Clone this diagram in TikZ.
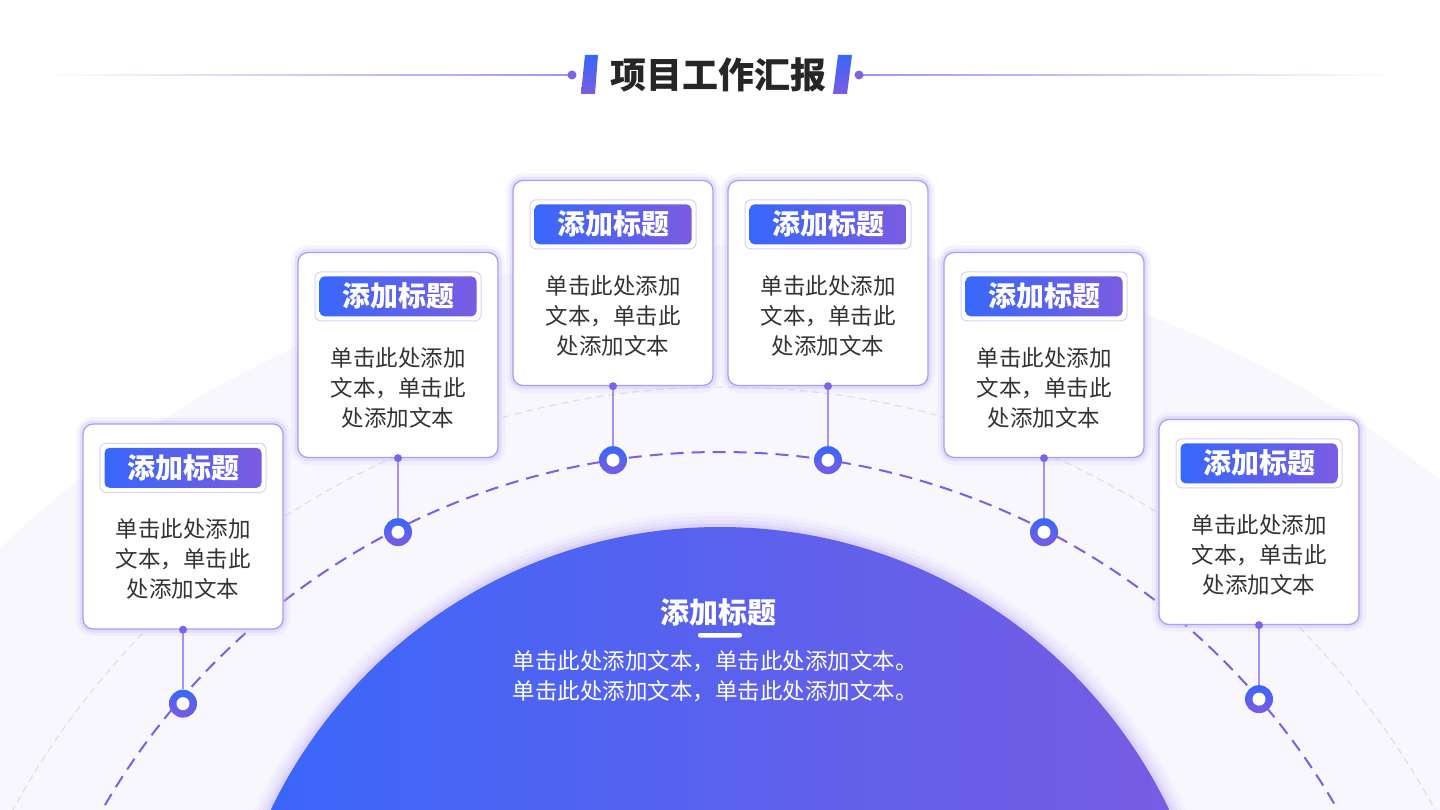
\documentclass[tikz,border=0pt]{standalone}
\usepackage{fontspec}
\setmainfont{Noto Sans CJK SC}
\usetikzlibrary{positioning}
\definecolor{bgTint}{HTML}{F8F7FE}
\definecolor{mainBlue}{HTML}{3867FB}
\definecolor{mainViolet}{HTML}{7A5CE1}
\definecolor{dashC}{HTML}{7B5FE6}
\definecolor{thinC}{HTML}{DDD7F6}
\definecolor{frameC}{HTML}{AC9CF4}
\definecolor{glowC}{HTML}{C4B7F8}
\definecolor{tbFrame}{HTML}{D9D1F9}
\definecolor{connC}{HTML}{A393F2}
\definecolor{dotC}{HTML}{7C63E8}
\definecolor{textC}{HTML}{333333}
\definecolor{headC}{HTML}{262626}
\tikzset{
  card/.style={rectangle, rounded corners=10pt, minimum width=200pt, minimum height=205pt,
    fill=white, draw=frameC, line width=1.3pt,
    preaction={draw=glowC, line width=14pt, opacity=0.15},
    preaction={draw=glowC, line width=7pt, opacity=0.3}},
  tbframe/.style={rectangle, rounded corners=6pt, minimum width=166pt, minimum height=49pt,
    fill=white, draw=tbFrame, line width=1pt},
  tbar/.style={rectangle, rounded corners=5pt, minimum width=157pt, minimum height=40pt,
    inner sep=0pt, left color=mainBlue, right color=mainViolet, text=white,
    font=\bfseries\fontsize{28}{30}\selectfont},
  body/.style={align=center, text=textC, font=\fontsize{22.5}{30}\selectfont},
  ring/.style={circle, minimum size=28pt, inner sep=0pt, top color=mainBlue, bottom color=mainViolet,
    path picture={\fill[white] (path picture bounding box.center) circle (6.5pt);}},
  hdot/.style={circle, fill=dotC, minimum size=9pt, inner sep=0pt},
  conn/.style={draw=connC, line width=1.5pt}
}
\begin{document}
\begin{tikzpicture}[x=1pt,y=-1pt]
\useasboundingbox (0,0) rectangle (1440,810);
\clip (0,0) rectangle (1440,810);
\fill[white] (0,0) rectangle (1440,810);
% arcs
\fill[bgTint] (759,1347) circle (1102pt);
\draw[thinC, line width=1pt, dash pattern=on 7pt off 5pt] (724,1196) circle (809pt);
\draw[dashC, line width=2pt, dash pattern=on 13pt off 8pt] (720,1164) circle (712pt);
\path[preaction={draw=glowC, line width=30pt, opacity=0.08},
      preaction={draw=glowC, line width=22pt, opacity=0.12},
      preaction={draw=glowC, line width=14pt, opacity=0.18},
      preaction={draw=glowC, line width=7pt, opacity=0.3},
      left color=mainBlue, right color=mainViolet] (720,1025) circle (498pt);
%
% header
\node[font=\bfseries\fontsize{36}{40}\selectfont, text=headC] (head) at (718,75) {项目工作汇报};
\shade[top color=mainBlue, bottom color=mainViolet] (585,55) -- (598,55) -- (595,94) -- (581,94) -- cycle;
\shade[top color=mainBlue, bottom color=mainViolet] (838,55) -- (852,55) -- (847,94) -- (833,94) -- cycle;
\shade[left color=white, right color=connC] (40,74.2) rectangle (572,75.8);
\shade[left color=connC, right color=white] (859,74.2) rectangle (1400,75.8);
\node[hdot] (hl) at (572,75) {};
\node[hdot] (hr) at (859,75) {};
%
% center
\node[font=\bfseries\fontsize{29}{30}\selectfont, text=white] (ctitle) at (718,612) {添加标题};
\fill[white, rounded corners=2pt] (698,633) rectangle (742,637.5);
\node[align=center, text=white, font=\fontsize{22.5}{30}\selectfont] (ctext) at (715,676)
  {单击此处添加文本，单击此处添加文本。\\单击此处添加文本，单击此处添加文本。};
%
% cards
\node[card] (c1) at (183,526.5) {};
\node[tbframe] (f1) at ([yshift=-44.5pt]c1.north) {};
\node[tbar] (t1) at (f1) {添加标题};
\node[body] (b1) at ([yshift=-136pt]c1.north) {单击此处添加\\文本，单击此\\处添加文本};
\node[ring] (r1) at ([yshift=-74pt]c1.south) {};
\draw[conn] (c1.south) -- (r1.north);
\fill[dotC] (c1.south) circle (4pt);

\node[card] (c2) at (398,355) {};
\node[tbframe] (f2) at ([yshift=-44.5pt]c2.north) {};
\node[tbar] (t2) at (f2) {添加标题};
\node[body] (b2) at ([yshift=-136pt]c2.north) {单击此处添加\\文本，单击此\\处添加文本};
\node[ring] (r2) at ([yshift=-74pt]c2.south) {};
\draw[conn] (c2.south) -- (r2.north);
\fill[dotC] (c2.south) circle (4pt);

\node[card] (c3) at (613,283) {};
\node[tbframe] (f3) at ([yshift=-44.5pt]c3.north) {};
\node[tbar] (t3) at (f3) {添加标题};
\node[body] (b3) at ([yshift=-136pt]c3.north) {单击此处添加\\文本，单击此\\处添加文本};
\node[ring] (r3) at ([yshift=-74pt]c3.south) {};
\draw[conn] (c3.south) -- (r3.north);
\fill[dotC] (c3.south) circle (4pt);

\node[card] (c4) at (828,283) {};
\node[tbframe] (f4) at ([yshift=-44.5pt]c4.north) {};
\node[tbar] (t4) at (f4) {添加标题};
\node[body] (b4) at ([yshift=-136pt]c4.north) {单击此处添加\\文本，单击此\\处添加文本};
\node[ring] (r4) at ([yshift=-74pt]c4.south) {};
\draw[conn] (c4.south) -- (r4.north);
\fill[dotC] (c4.south) circle (4pt);

\node[card] (c5) at (1044,355) {};
\node[tbframe] (f5) at ([yshift=-44.5pt]c5.north) {};
\node[tbar] (t5) at (f5) {添加标题};
\node[body] (b5) at ([yshift=-136pt]c5.north) {单击此处添加\\文本，单击此\\处添加文本};
\node[ring] (r5) at ([yshift=-74pt]c5.south) {};
\draw[conn] (c5.south) -- (r5.north);
\fill[dotC] (c5.south) circle (4pt);

\node[card] (c6) at (1259,522) {};
\node[tbframe] (f6) at ([yshift=-44.5pt]c6.north) {};
\node[tbar] (t6) at (f6) {添加标题};
\node[body] (b6) at ([yshift=-136pt]c6.north) {单击此处添加\\文本，单击此\\处添加文本};
\node[ring] (r6) at ([yshift=-74pt]c6.south) {};
\draw[conn] (c6.south) -- (r6.north);
\fill[dotC] (c6.south) circle (4pt);
\end{tikzpicture}
\end{document}
